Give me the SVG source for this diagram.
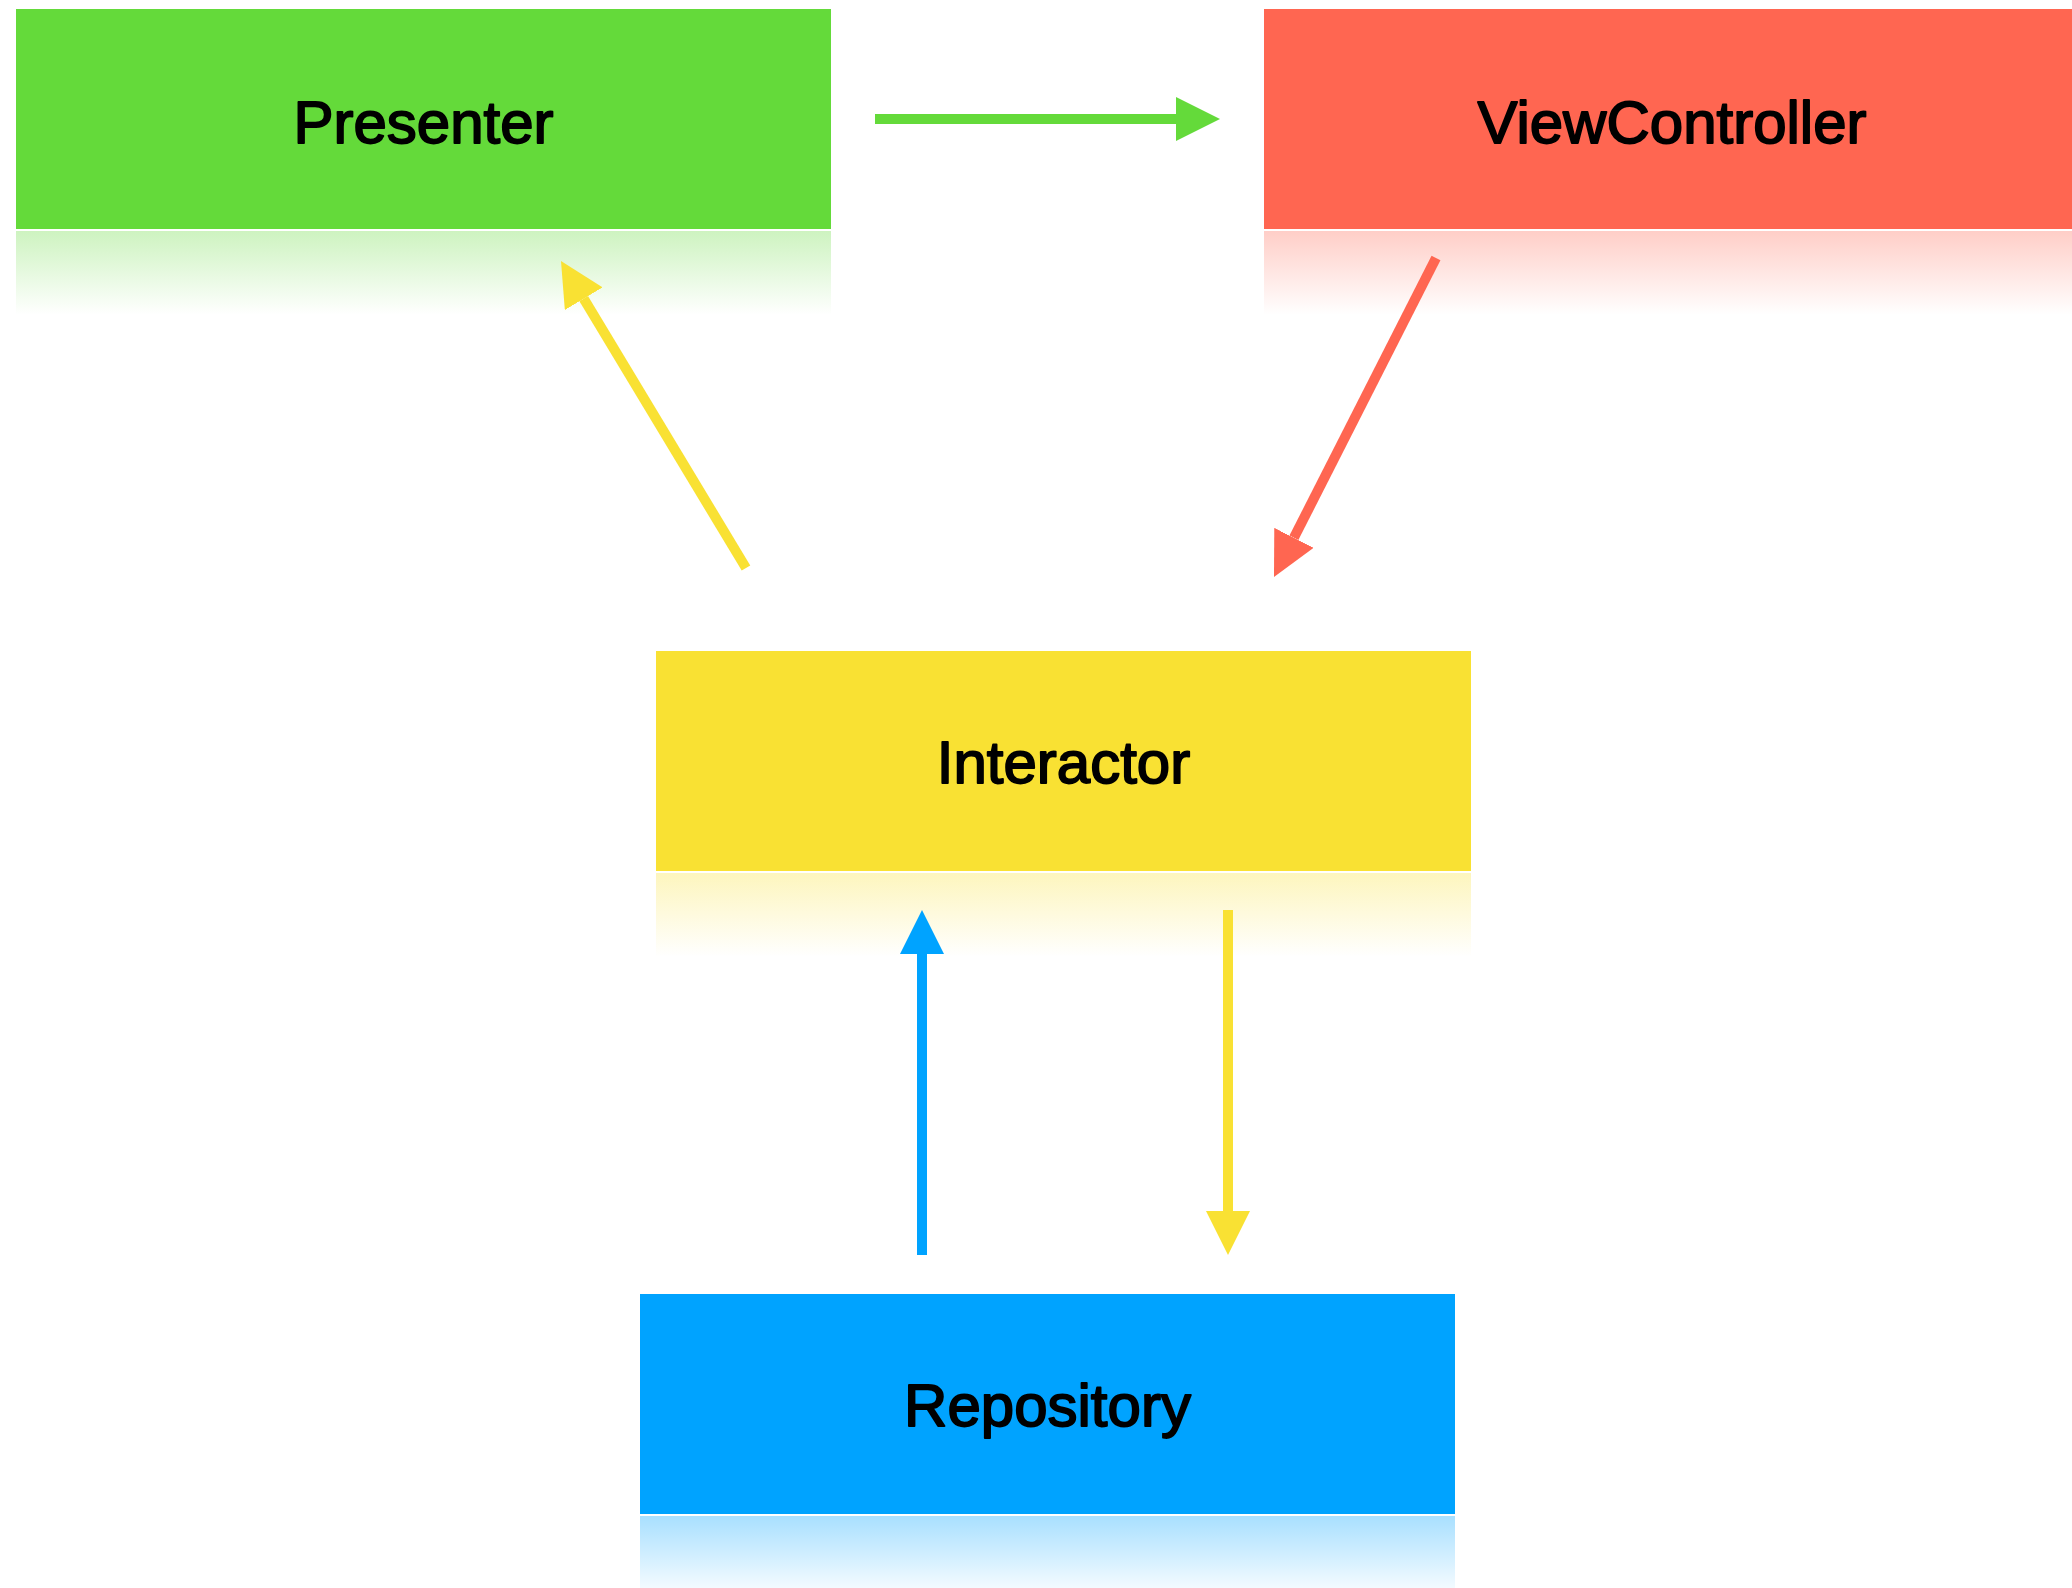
<svg xmlns="http://www.w3.org/2000/svg" width="2072" height="1588" viewBox="0 0 2072 1588">
<style>
.lbl{font-family:"Liberation Sans",Arial,sans-serif;font-size:60px;fill:#000;stroke:#000;stroke-width:1.8;stroke-linejoin:round;text-anchor:middle}
.conn{stroke-width:10;fill:none;stroke-linecap:butt}
</style>
<defs>
<linearGradient id="gG" x1="0" y1="0" x2="0" y2="1"><stop offset="0" stop-color="#64DA3A" stop-opacity="0.32"/><stop offset="1" stop-color="#64DA3A" stop-opacity="0"/></linearGradient>
<linearGradient id="gR" x1="0" y1="0" x2="0" y2="1"><stop offset="0" stop-color="#FF6651" stop-opacity="0.32"/><stop offset="1" stop-color="#FF6651" stop-opacity="0"/></linearGradient>
<linearGradient id="gY" x1="0" y1="0" x2="0" y2="1"><stop offset="0" stop-color="#F9E133" stop-opacity="0.32"/><stop offset="1" stop-color="#F9E133" stop-opacity="0"/></linearGradient>
<linearGradient id="gB" x1="0" y1="0" x2="0" y2="1"><stop offset="0" stop-color="#00A3FF" stop-opacity="0.34"/><stop offset="1" stop-color="#00A3FF" stop-opacity="0"/></linearGradient>
<marker id="aG" markerUnits="userSpaceOnUse" markerWidth="44" markerHeight="44" refX="0" refY="22" orient="auto" viewBox="0 0 44 44"><path d="M0,0 L44,22 L0,44 z" fill="#64DA3A"/></marker>
<marker id="aR" markerUnits="userSpaceOnUse" markerWidth="44" markerHeight="44" refX="0" refY="22" orient="auto" viewBox="0 0 44 44"><path d="M0,0 L44,22 L0,44 z" fill="#FF6651"/></marker>
<marker id="aY" markerUnits="userSpaceOnUse" markerWidth="44" markerHeight="44" refX="0" refY="22" orient="auto" viewBox="0 0 44 44"><path d="M0,0 L44,22 L0,44 z" fill="#F9E133"/></marker>
<marker id="aB" markerUnits="userSpaceOnUse" markerWidth="44" markerHeight="44" refX="0" refY="22" orient="auto" viewBox="0 0 44 44"><path d="M0,0 L44,22 L0,44 z" fill="#00A3FF"/></marker>
</defs>
<rect width="2072" height="1588" fill="#fff"/>
<g id="presenter">
<rect x="16" y="9" width="815" height="220" fill="#64DA3A"/>
<rect x="16" y="231" width="815" height="84" fill="url(#gG)"/>
<text class="lbl" x="423.5" y="143">Presenter</text>
</g>
<g id="viewcontroller">
<rect x="1264" y="9" width="816" height="220" fill="#FF6651"/>
<rect x="1264" y="231" width="816" height="84" fill="url(#gR)"/>
<text class="lbl" x="1672" y="143">ViewController</text>
</g>
<g id="interactor">
<rect x="656" y="651" width="815" height="220" fill="#F9E133"/>
<rect x="656" y="873" width="815" height="84" fill="url(#gY)"/>
<text class="lbl" x="1063.5" y="783">Interactor</text>
</g>
<g id="repository">
<rect x="640" y="1294" width="815" height="220" fill="#00A3FF"/>
<rect x="640" y="1516" width="815" height="84" fill="url(#gB)"/>
<text class="lbl" x="1047.5" y="1426">Repository</text>
</g>
<g id="connectors">
<line class="conn" x1="875" y1="119" x2="1176" y2="119" stroke="#64DA3A" marker-end="url(#aG)"/>
<line class="conn" x1="746" y1="568" x2="583.7" y2="298.7" stroke="#F9E133" marker-end="url(#aY)"/>
<line class="conn" x1="1436" y1="258" x2="1293.9" y2="537.8" stroke="#FF6651" marker-end="url(#aR)"/>
<line class="conn" x1="922" y1="1255" x2="922" y2="954" stroke="#00A3FF" marker-end="url(#aB)"/>
<line class="conn" x1="1228" y1="910" x2="1228" y2="1211" stroke="#F9E133" marker-end="url(#aY)"/>
</g>
</svg>
